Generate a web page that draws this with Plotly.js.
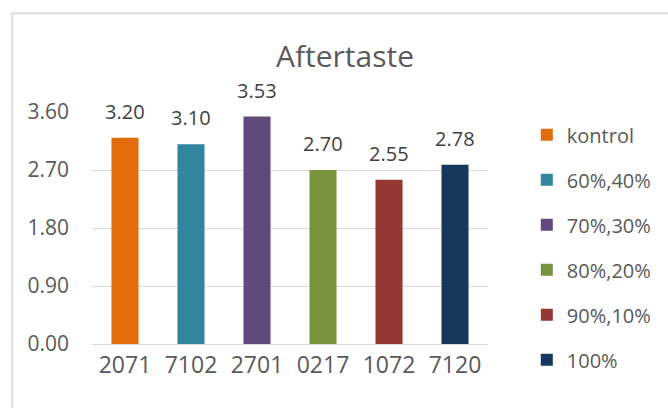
<!DOCTYPE html>
<html>
<head>
<meta charset="utf-8">
<script src="https://cdn.plot.ly/plotly-3.0.1.min.js"></script>
<style>
  html, body { margin: 0; padding: 0; background: #ffffff; }
  #chart { width: 668px; height: 408px; }
</style>
</head>
<body>
<div id="chart"></div>
<script>
// Aftertaste scores per sample code
const categories = ["2071", "7102", "2701", "0217", "1072", "7120"];
const seriesNames = ["kontrol", "60%,40%", "70%,30%", "80%,20%", "90%,10%", "100%"];
const scores = [3.20, 3.10, 3.53, 2.70, 2.55, 2.78];
const barColors = ["#E36C0A", "#31859C", "#604A7B", "#77933C", "#953735", "#17375E"];
const yTicks = [0, 0.9, 1.8, 2.7, 3.6];

const FONT = "'Open Sans', 'Noto Sans', sans-serif";

// one trace per sample so each gets its own legend entry
const traces = categories.map((cat, i) => ({
  type: "bar",
  name: seriesNames[i],
  x: [cat],
  y: [scores[i]],
  width: 0.41,
  marker: { color: barColors[i], line: { width: 0 } },
  legendgroup: "g" + i,
  hoverinfo: "x+y"
}));

// value labels above each bar (category index used as x position)
const valueLabels = categories.map((cat, i) => ({
  x: i,
  y: scores[i],
  xref: "x",
  yref: "y",
  text: scores[i].toFixed(2),
  showarrow: false,
  yanchor: "bottom",
  yshift: 11,
  font: { family: FONT, size: 20, color: "#404040" }
}));

const layout = {
  width: 668,
  height: 408,
  margin: { l: 91.6, r: 163.6, t: 111.7, b: 64, pad: 0 },
  paper_bgcolor: "#ffffff",
  plot_bgcolor: "#ffffff",
  barmode: "overlay",
  showlegend: true,
  title: {
    text: "Aftertaste",
    x: 345 / 668,
    xanchor: "center",
    xref: "container",
    y: 1 - 56 / 408,
    yanchor: "middle",
    yref: "container",
    font: { family: FONT, size: 30, color: "#595959" }
  },
  xaxis: {
    type: "category",
    categoryorder: "array",
    categoryarray: categories,
    range: [-0.5, categories.length - 0.5],
    showgrid: false,
    showline: true,
    linecolor: "#d9d9d9",
    linewidth: 1,
    ticks: "",
    zeroline: false,
    tickfont: { family: FONT, size: 23, color: "#595959" }
  },
  yaxis: {
    range: [0, 3.6],
    tickvals: yTicks,
    ticktext: yTicks.map(v => v.toFixed(2)),
    showgrid: true,
    gridcolor: "#d9d9d9",
    gridwidth: 1,
    zeroline: false,
    showline: false,
    ticks: "",
    ticklabelstandoff: 22,
    tickfont: { family: FONT, size: 21, color: "#595959" }
  },
  legend: {
    x: 1.098,
    xanchor: "left",
    y: (344 - 115) / 232.3,
    yanchor: "top",
    maxheight: 400,
    tracegroupgap: 16,
    traceorder: "grouped",
    bgcolor: "rgba(0,0,0,0)",
    font: { family: FONT, size: 20, color: "#595959" }
  },
  shapes: [{
    type: "rect",
    xref: "paper",
    yref: "paper",
    x0: (8.5 - 91.6) / 412.8,
    x1: 1.5,
    y0: -0.5,
    y1: (344 - 13) / 232.3,
    line: { color: "#d9d9d9", width: 1.7 },
    fillcolor: "rgba(0,0,0,0)",
    layer: "below"
  }],
  annotations: valueLabels
};

Plotly.newPlot("chart", traces, layout, { displayModeBar: false, staticPlot: true });
</script>
</body>
</html>
